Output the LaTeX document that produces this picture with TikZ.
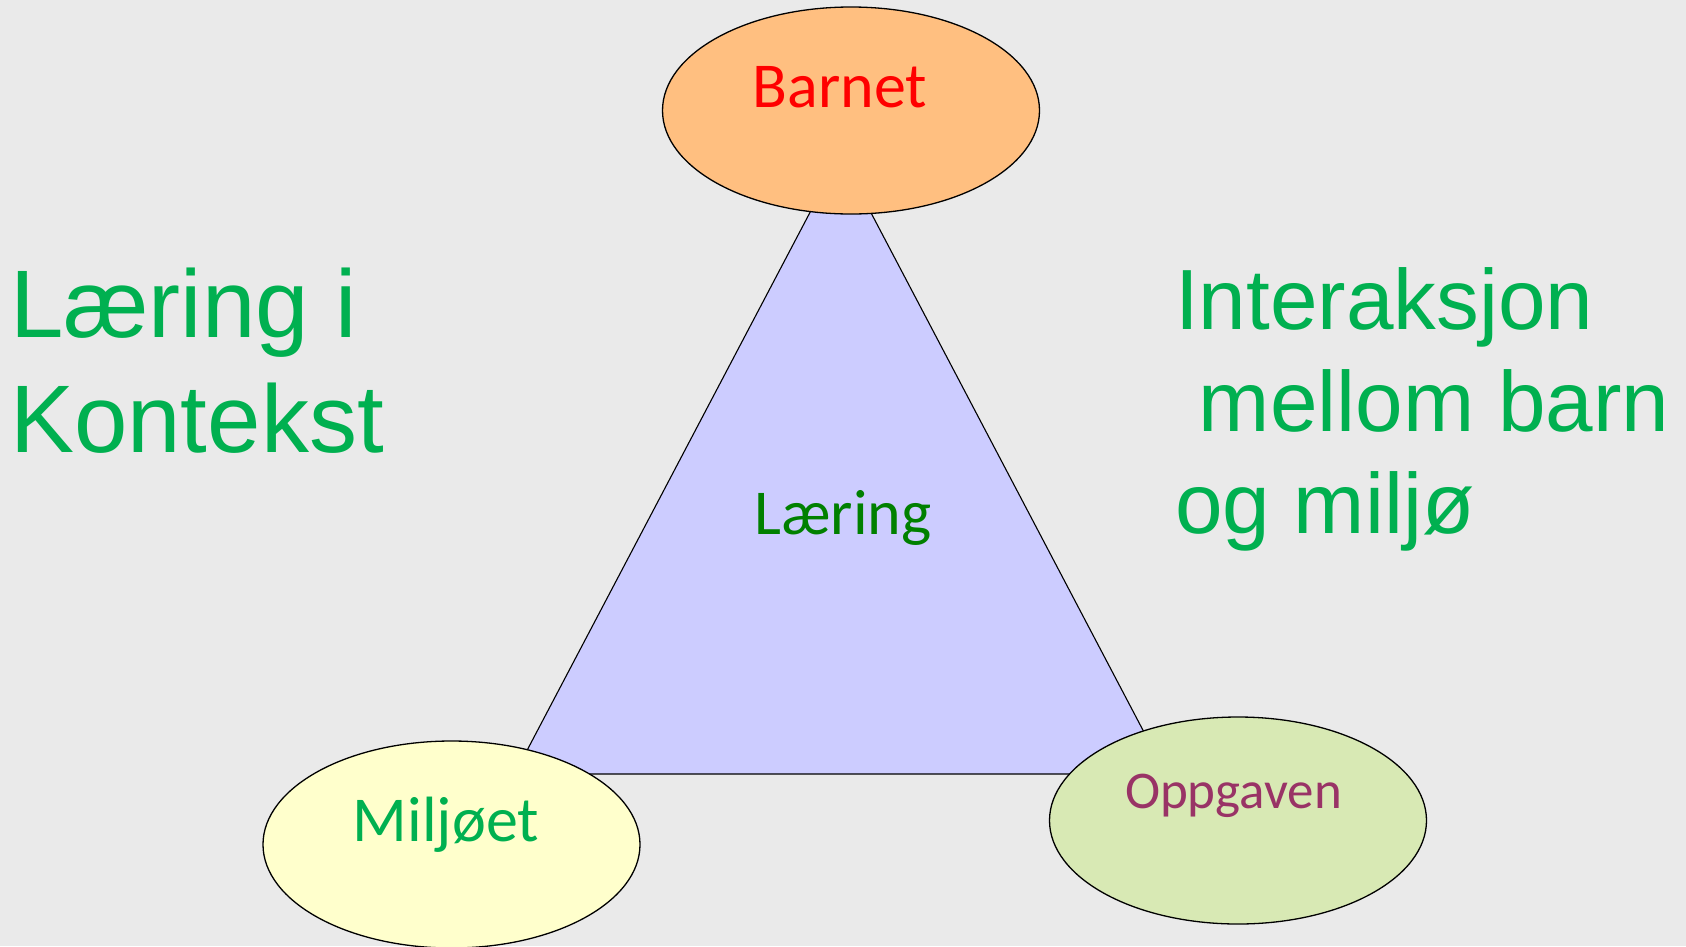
\documentclass[tikz,border=0pt]{standalone}
\usepackage{fontspec}
\setmainfont{Carlito}
\newfontfamily\arialf{Liberation Sans}
\usetikzlibrary{shapes.geometric}
\definecolor{bgc}{HTML}{EAEAEA}
\definecolor{barnetfill}{HTML}{FFBF80}
\definecolor{miljofill}{HTML}{FFFFCC}
\definecolor{oppgfill}{HTML}{D8E9B4}
\definecolor{trifill}{HTML}{CCCCFF}
\definecolor{bigGreen}{HTML}{00B050}
\definecolor{darkGreen}{HTML}{008000}
\definecolor{plum}{HTML}{993366}
\tikzset{
  blob/.style={ellipse, draw=black, line width=1.3pt, minimum width=377pt, minimum height=207pt, inner sep=0pt},
  lbl/.style={anchor=base, inner sep=0pt, font=\fontsize{64}{76}\selectfont},
  bigtxt/.style={anchor=base west, inner sep=0pt, text=bigGreen},
}
\begin{document}
\begin{tikzpicture}[x=1pt,y=-1pt]
\fill[bgc] (0,0) rectangle (1686,946);
\useasboundingbox (0,0) rectangle (1686,946);
% triangle
\coordinate (apex) at (840.4,154.6);
\coordinate (bl) at (514.6,774);
\coordinate (br) at (1166,774);
\draw[fill=trifill, line width=1.1pt, line join=miter] (apex) -- (bl) -- (br) -- cycle;
\node[lbl, text=darkGreen] (laering) at (843,534) {Læring};
% ellipses
\node[blob, fill=barnetfill] (barnet) at (851,110.5) {};
\node[blob, fill=miljofill] (miljo) at (451.5,844.5) {};
\node[blob, fill=oppgfill] (oppg) at (1238,820.5) {};
\node[lbl, text=red] (tbarnet) at (840,107) {Barnet};
\node[lbl, text=bigGreen] (tmiljo) at (446,841) {Miljøet};
\node[lbl, text=plum, font=\fontsize{53}{63}\selectfont] (toppg) at (1233.5,808) {Oppgaven};
% big texts
\node[bigtxt, font=\arialf\fontsize{96}{115}\selectfont] (l1) at (10,337) {Læring i};
\node[bigtxt, font=\arialf\fontsize{96}{115}\selectfont] (l2) at (10,452) {Kontekst};
\node[bigtxt, font=\arialf\fontsize{85.5}{102}\selectfont] (r1) at (1175,329) {Interaksjon};
\node[bigtxt, font=\arialf\fontsize{85.5}{102}\selectfont] (r2) at (1175,431) {\ mellom barn};
\node[bigtxt, font=\arialf\fontsize{85.5}{102}\selectfont] (r3) at (1175,533) {og miljø};
\end{tikzpicture}
\end{document}
